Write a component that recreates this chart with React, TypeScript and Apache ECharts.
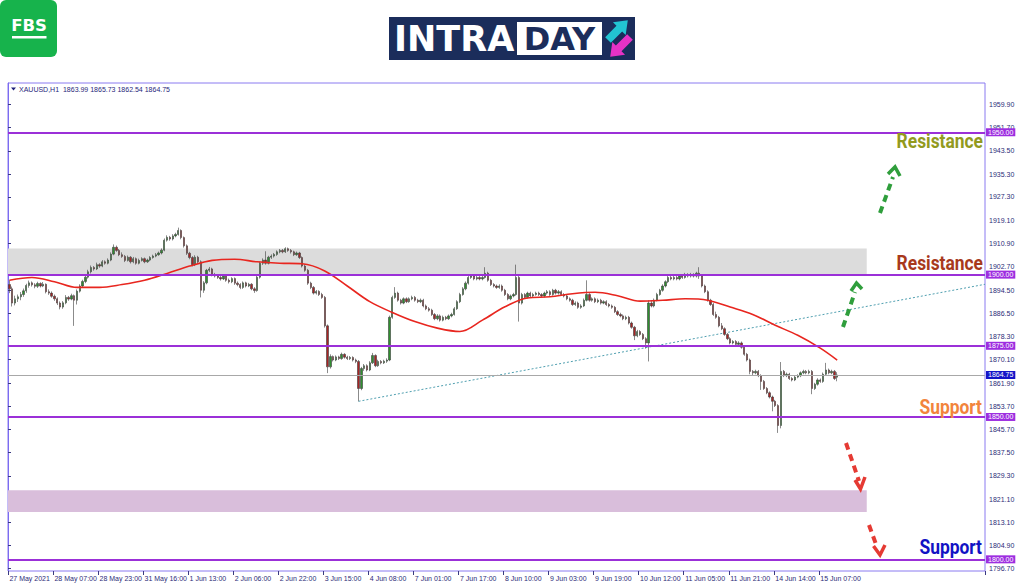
import React, { useEffect, useRef } from 'react';
import * as echarts from 'echarts';

// ---------- data ----------
const xTickLabels = ['27 May 2021', '28 May 07:00', '28 May 23:00', '31 May 16:00', '1 Jun 13:00', '2 Jun 06:00', '2 Jun 22:00', '3 Jun 15:00', '4 Jun 08:00', '7 Jun 01:00', '7 Jun 17:00', '8 Jun 10:00', '9 Jun 03:00', '9 Jun 19:00', '10 Jun 12:00', '11 Jun 05:00', '11 Jun 21:00', '14 Jun 14:00', '15 Jun 07:00'];
const yTickValues = [1796.7, 1804.9, 1813.1, 1821.1, 1829.3, 1837.5, 1845.7, 1853.7, 1861.9, 1870.1, 1878.3, 1886.5, 1894.5, 1902.7, 1910.9, 1919.1, 1927.3, 1935.3, 1943.5, 1951.7, 1959.9];

// hourly candles [open, high, low, close]
const candles: number[][] = [
  [1896.5,1898.0,1893.5,1895.0],[1895.0,1895.8,1888.8,1890.0],[1890.0,1892.6,1889.2,1891.5],[1891.5,1893.0,1890.4,1892.2],
  [1892.2,1893.9,1891.0,1893.0],[1893.0,1895.1,1892.2,1894.3],[1894.3,1896.8,1893.6,1896.2],[1896.2,1897.9,1895.4,1897.1],
  [1897.1,1897.6,1895.8,1896.4],[1896.4,1897.0,1895.2,1895.9],[1895.9,1897.5,1895.3,1896.9],[1896.9,1897.3,1895.5,1896.0],
  [1896.0,1897.4,1895.6,1896.6],[1896.6,1896.9,1893.4,1894.0],[1894.0,1894.8,1892.9,1893.5],[1893.5,1894.1,1891.9,1892.4],
  [1892.4,1893.0,1890.8,1891.5],[1891.5,1892.0,1889.3,1890.0],[1890.0,1890.6,1887.8,1888.6],[1888.6,1890.7,1888.0,1890.1],
  [1890.1,1892.8,1889.6,1892.0],[1892.0,1892.5,1890.8,1891.4],[1891.4,1893.3,1891.0,1892.6],[1892.6,1893.0,1882.0,1891.0],
  [1891.0,1894.8,1889.5,1894.2],[1894.2,1896.6,1893.7,1896.0],[1896.0,1898.2,1895.5,1897.6],[1897.6,1899.7,1897.0,1899.1],
  [1899.1,1901.7,1898.6,1901.0],[1901.0,1903.2,1900.4,1902.5],[1902.5,1903.0,1901.4,1902.0],[1902.0,1904.2,1901.6,1903.5],
  [1903.5,1904.0,1902.4,1903.0],[1903.0,1905.1,1902.6,1904.5],[1904.5,1905.0,1903.5,1904.0],[1904.0,1905.7,1903.6,1905.1],
  [1905.1,1907.8,1904.7,1907.2],[1907.2,1910.6,1906.8,1909.6],[1909.6,1910.2,1908.0,1908.5],[1908.5,1909.0,1906.5,1907.0],
  [1907.0,1907.8,1905.9,1906.4],[1906.4,1906.9,1904.4,1905.0],[1905.0,1906.7,1904.6,1906.1],[1906.1,1906.5,1903.9,1904.5],
  [1904.5,1906.2,1904.0,1905.6],[1905.6,1906.0,1903.5,1904.0],[1904.0,1905.6,1903.6,1905.0],[1905.0,1906.1,1904.6,1905.6],
  [1905.6,1906.0,1904.0,1904.5],[1904.5,1905.6,1904.1,1905.1],[1905.1,1906.5,1904.7,1906.0],[1906.0,1907.0,1905.6,1906.5],
  [1906.5,1907.6,1906.1,1907.0],[1907.0,1908.1,1906.6,1907.6],[1907.6,1909.2,1907.1,1908.6],[1908.6,1912.7,1908.2,1912.1],
  [1912.1,1913.8,1911.6,1913.1],[1913.1,1913.6,1911.9,1912.5],[1912.5,1914.2,1912.0,1913.6],[1913.6,1914.7,1913.1,1914.1],
  [1914.1,1916.5,1913.7,1915.5],[1915.5,1915.9,1912.4,1913.0],[1913.0,1913.4,1909.5,1910.1],[1910.1,1910.6,1906.9,1907.5],
  [1907.5,1908.0,1905.4,1906.0],[1906.0,1906.5,1902.9,1903.5],[1903.5,1906.8,1903.0,1906.1],[1906.1,1906.6,1904.0,1904.5],
  [1904.5,1905.0,1892.0,1894.5],[1894.5,1897.7,1893.6,1897.1],[1897.1,1902.0,1896.6,1901.5],[1901.5,1902.7,1900.9,1902.0],
  [1902.0,1902.4,1899.4,1900.0],[1900.0,1900.6,1899.0,1899.5],[1899.5,1900.1,1898.5,1899.0],[1899.0,1899.5,1897.9,1898.5],
  [1898.5,1900.1,1898.1,1899.6],[1899.6,1900.0,1897.5,1898.0],[1898.0,1898.6,1896.9,1897.5],[1897.5,1899.1,1897.0,1898.6],
  [1898.6,1899.0,1896.4,1897.0],[1897.0,1897.6,1895.9,1896.5],[1896.5,1897.0,1894.9,1895.5],[1895.5,1897.6,1895.0,1897.1],
  [1897.1,1897.5,1895.5,1896.0],[1896.0,1897.1,1895.6,1896.6],[1896.6,1897.0,1894.5,1895.0],[1895.0,1895.6,1893.6,1894.4],
  [1894.4,1899.6,1894.0,1899.1],[1899.1,1904.6,1898.6,1904.0],[1904.0,1905.7,1903.4,1905.1],[1905.1,1908.2,1903.5,1904.0],
  [1904.0,1906.6,1903.6,1906.1],[1906.1,1907.1,1905.5,1906.5],[1906.5,1907.6,1906.0,1907.1],[1907.1,1908.5,1906.6,1908.0],
  [1908.0,1909.0,1907.5,1908.5],[1908.5,1909.0,1907.5,1908.0],[1908.0,1909.6,1907.6,1909.1],[1909.1,1909.5,1908.0,1908.5],
  [1908.5,1909.0,1907.4,1908.0],[1908.0,1908.4,1906.5,1907.0],[1907.0,1908.1,1906.6,1907.6],[1907.6,1908.0,1905.5,1906.0],
  [1906.0,1906.4,1902.5,1903.0],[1903.0,1903.6,1901.0,1901.5],[1901.5,1902.0,1896.4,1897.0],[1897.0,1897.5,1894.9,1895.5],
  [1895.5,1896.0,1893.0,1893.5],[1893.5,1894.6,1893.0,1894.1],[1894.1,1894.5,1892.5,1893.0],[1893.0,1893.6,1891.5,1892.0],
  [1892.0,1892.5,1881.4,1882.0],[1882.0,1882.5,1865.4,1867.6],[1867.6,1872.0,1867.0,1871.2],[1871.2,1871.6,1869.5,1870.0],
  [1870.0,1871.6,1869.6,1871.1],[1871.1,1871.5,1870.0,1870.5],[1870.5,1872.6,1870.1,1872.0],[1872.0,1872.4,1870.5,1871.0],
  [1871.0,1871.5,1870.0,1870.5],[1870.5,1871.4,1870.0,1870.9],[1870.9,1871.3,1869.5,1870.0],[1870.0,1870.5,1868.9,1869.5],
  [1869.5,1870.0,1855.5,1860.0],[1860.0,1867.6,1859.4,1867.0],[1867.0,1868.6,1866.2,1868.0],[1868.0,1868.5,1866.0,1866.5],
  [1866.5,1869.6,1866.1,1869.0],[1869.0,1872.5,1868.6,1871.6],[1871.6,1872.0,1867.5,1868.0],[1868.0,1870.1,1867.6,1869.5],
  [1869.5,1870.0,1868.5,1869.0],[1869.0,1870.1,1868.6,1869.6],[1869.6,1870.6,1869.0,1870.0],[1870.0,1885.6,1869.6,1885.0],
  [1885.0,1892.6,1884.5,1892.0],[1892.0,1895.6,1891.5,1893.5],[1893.5,1894.0,1890.5,1891.0],[1891.0,1891.5,1889.5,1890.0],
  [1890.0,1892.0,1889.6,1891.5],[1891.5,1892.0,1890.0,1890.5],[1890.5,1892.0,1890.1,1891.5],[1891.5,1892.6,1891.0,1892.0],
  [1892.0,1892.5,1890.5,1891.0],[1891.0,1891.5,1890.0,1890.5],[1890.5,1891.6,1890.0,1891.0],[1891.0,1891.5,1888.5,1889.0],
  [1889.0,1889.5,1887.5,1888.0],[1888.0,1888.6,1887.0,1887.5],[1887.5,1888.0,1885.5,1886.0],[1886.0,1886.5,1884.0,1884.5],
  [1884.5,1886.1,1884.0,1885.5],[1885.5,1886.0,1883.5,1884.0],[1884.0,1885.6,1883.6,1885.0],[1885.0,1885.5,1884.0,1884.5],
  [1884.5,1886.0,1884.1,1885.5],[1885.5,1886.6,1885.0,1886.0],[1886.0,1888.6,1885.6,1888.0],[1888.0,1891.0,1887.6,1890.5],
  [1890.5,1893.6,1890.0,1893.0],[1893.0,1895.6,1892.6,1895.0],[1895.0,1897.6,1894.5,1897.0],[1897.0,1899.6,1896.5,1899.0],
  [1899.0,1900.2,1898.5,1899.5],[1899.5,1900.0,1898.0,1898.5],[1898.5,1899.6,1898.0,1899.0],[1899.0,1899.5,1898.0,1898.5],
  [1898.5,1899.6,1898.0,1899.0],[1899.0,1902.6,1898.6,1900.5],[1900.5,1901.0,1897.5,1898.0],[1898.0,1898.5,1896.0,1896.5],
  [1896.5,1897.0,1895.5,1896.0],[1896.0,1896.5,1895.0,1895.5],[1895.5,1896.6,1895.0,1896.0],[1896.0,1896.5,1894.0,1894.5],
  [1894.5,1895.0,1892.5,1893.0],[1893.0,1893.5,1891.0,1891.5],[1891.5,1893.0,1891.0,1892.5],[1892.5,1893.6,1892.0,1893.0],
  [1893.0,1903.5,1892.6,1899.0],[1899.0,1900.0,1883.5,1890.0],[1890.0,1893.6,1889.5,1893.0],[1893.0,1893.5,1891.5,1892.0],
  [1892.0,1894.0,1891.6,1893.5],[1893.5,1894.0,1892.0,1892.5],[1892.5,1893.6,1892.0,1893.0],[1893.0,1894.0,1892.6,1893.5],
  [1893.5,1894.0,1892.5,1893.0],[1893.0,1893.5,1892.0,1892.5],[1892.5,1894.0,1892.0,1893.5],[1893.5,1894.6,1893.0,1894.0],
  [1894.0,1894.5,1892.5,1893.0],[1893.0,1895.0,1892.6,1894.5],[1894.5,1895.0,1893.0,1893.5],[1893.5,1894.6,1893.0,1894.0],
  [1894.0,1894.5,1892.5,1893.0],[1893.0,1893.5,1892.0,1892.5],[1892.5,1893.0,1891.0,1891.5],[1891.5,1892.0,1890.5,1891.0],
  [1891.0,1891.5,1889.0,1889.5],[1889.5,1890.6,1889.0,1890.0],[1890.0,1890.5,1888.0,1888.5],[1888.5,1889.6,1888.0,1889.0],
  [1889.0,1891.6,1888.6,1891.0],[1891.0,1898.0,1890.6,1893.0],[1893.0,1893.5,1890.5,1891.0],[1891.0,1892.0,1890.5,1891.5],
  [1891.5,1892.0,1890.0,1890.5],[1890.5,1891.6,1890.0,1891.0],[1891.0,1891.5,1889.5,1890.0],[1890.0,1891.0,1889.6,1890.5],
  [1890.5,1891.0,1889.0,1889.5],[1889.5,1890.0,1888.5,1889.0],[1889.0,1889.5,1888.0,1888.5],[1888.5,1889.0,1886.5,1887.0],
  [1887.0,1887.5,1885.5,1886.0],[1886.0,1886.6,1885.0,1885.5],[1885.5,1886.0,1884.0,1884.5],[1884.5,1885.6,1884.0,1885.0],
  [1885.0,1885.5,1882.5,1883.0],[1883.0,1883.5,1881.0,1881.5],[1881.5,1882.0,1877.0,1878.5],[1878.5,1880.6,1878.0,1880.0],
  [1880.0,1880.5,1878.5,1879.0],[1879.0,1879.5,1877.0,1877.5],[1877.5,1878.0,1874.0,1876.0],[1876.0,1891.0,1869.5,1890.0],
  [1890.0,1891.0,1888.5,1889.0],[1889.0,1891.6,1888.5,1891.0],[1891.0,1893.6,1890.6,1893.0],[1893.0,1895.0,1892.6,1894.5],
  [1894.5,1896.6,1894.0,1896.0],[1896.0,1898.0,1895.5,1897.5],[1897.5,1899.6,1897.0,1899.0],[1899.0,1899.5,1898.0,1898.5],
  [1898.5,1899.6,1898.0,1899.0],[1899.0,1899.5,1898.0,1898.5],[1898.5,1900.0,1898.0,1899.5],[1899.5,1900.0,1898.5,1899.0],
  [1899.0,1900.6,1898.6,1900.0],[1900.0,1900.5,1899.0,1899.5],[1899.5,1900.6,1899.0,1900.0],[1900.0,1900.5,1899.0,1899.5],
  [1899.5,1901.0,1899.0,1900.5],[1900.5,1902.6,1898.5,1899.5],[1899.5,1900.0,1895.5,1896.0],[1896.0,1896.5,1893.5,1894.0],
  [1894.0,1894.5,1890.5,1891.0],[1891.0,1891.5,1889.0,1889.5],[1889.5,1890.0,1885.5,1886.0],[1886.0,1887.0,1884.5,1885.0],
  [1885.0,1885.5,1881.5,1882.0],[1882.0,1883.0,1880.5,1881.0],[1881.0,1881.5,1878.5,1879.0],[1879.0,1879.5,1877.0,1877.5],
  [1877.5,1878.0,1875.5,1876.0],[1876.0,1877.0,1875.5,1876.5],[1876.5,1877.0,1875.0,1875.5],[1875.5,1876.6,1875.0,1876.0],
  [1876.0,1876.5,1874.0,1874.5],[1874.5,1875.0,1871.5,1872.0],[1872.0,1872.5,1869.5,1870.0],[1870.0,1870.5,1865.0,1866.0],
  [1866.0,1866.5,1864.5,1865.5],[1865.5,1866.6,1865.0,1866.0],[1866.0,1866.5,1864.0,1864.5],[1864.5,1865.0,1859.5,1862.5],
  [1862.5,1863.0,1859.5,1860.0],[1860.0,1860.5,1858.0,1858.5],[1858.5,1859.0,1856.5,1857.0],[1857.0,1857.5,1852.0,1855.5],
  [1855.5,1856.0,1853.5,1854.0],[1854.0,1854.5,1844.4,1847.0],[1847.0,1869.3,1846.0,1866.0],[1866.0,1866.5,1864.0,1864.5],
  [1864.5,1865.6,1864.0,1865.0],[1865.0,1865.5,1863.0,1863.5],[1863.5,1864.0,1862.5,1863.0],[1863.0,1864.6,1862.6,1864.0],
  [1864.0,1865.0,1863.6,1864.5],[1864.5,1866.0,1864.0,1865.5],[1865.5,1866.6,1865.0,1866.0],[1866.0,1866.5,1865.0,1865.5],
  [1865.5,1866.6,1865.0,1866.0],[1866.0,1866.5,1858.0,1860.0],[1860.0,1862.0,1859.5,1861.5],[1861.5,1863.6,1861.0,1863.0],
  [1863.0,1863.5,1862.0,1862.5],[1862.5,1865.6,1862.0,1865.0],[1865.0,1869.0,1864.6,1866.5],[1866.5,1867.0,1865.0,1865.5],
  [1865.5,1866.6,1865.0,1866.0],[1866.0,1866.5,1863.0,1863.5],[1863.99,1865.73,1862.54,1864.75]
];

// moving average (red line), read at these bar positions
const maBars = [0, 8, 16, 24, 32, 40, 48, 56, 64, 72, 80, 88, 96, 104, 112, 120, 128, 136, 144, 152, 160, 168, 176, 184, 192, 200, 208, 216, 224, 232, 240, 248, 256, 264, 272, 280, 288, 294];
const maValues = [1898.0, 1899.0, 1897.5, 1895.5, 1895.5, 1896.5, 1898.0, 1900.4, 1903.0, 1905.0, 1905.4, 1904.5, 1904.0, 1903.8, 1901.3, 1896.0, 1890.5, 1886.7, 1883.5, 1881.2, 1880.0, 1884.0, 1888.7, 1891.8, 1892.2, 1893.3, 1893.8, 1892.6, 1890.7, 1891.0, 1891.5, 1891.0, 1888.6, 1886.0, 1882.2, 1878.7, 1874.2, 1870.0];

const trendBars = [124.5, 347];
const trendValues = [1855.5, 1896.6];

const levelValues = [1950, 1900, 1875, 1850, 1800];
const currentPrice = 1864.75;
const zoneGray = [1900, 1909.2];
const zonePink = [1816.6, 1824.3];
const zoneEndBar = 305;
const totalSlots = 347;
const headerText = 'XAUUSD,H1  1863.99 1865.73 1862.54 1864.75';

export default function App() {
  const ref = useRef<HTMLDivElement>(null);
  useEffect(() => {
    if (!ref.current) return;
    const chart = echarts.init(ref.current, undefined, { renderer: 'svg' });
    const categories = Array.from({ length: totalSlots }, (_, i) => String(i));
    const candleData = candles.map(([o, h, l, c]) => [o, c, l, h]);
    const maData = maBars.map((b, k) => [b + 0.5, maValues[k]]);
    const trendData = trendBars.map((b, k) => [b, trendValues[k]]);
    const lbl = 'Liberation Sans';
    const axisTextColor = '#2c2c78';
    const purple = '#9b30d8';

    const levelLines: any[] = levelValues.map((v) => ({
      yAxis: v,
      lineStyle: { color: purple, width: 2, type: 'solid' },
      label: {
        show: true, position: 'end', distance: 1, formatter: v.toFixed(2),
        backgroundColor: '#9d2ee0', color: '#ffffff', fontSize: 7, fontFamily: lbl,
        padding: [1, 2, 0, 2],
      },
    }));
    levelLines.push({
      yAxis: currentPrice,
      lineStyle: { color: '#a8a8a8', width: 1, type: 'solid' },
      label: {
        show: true, position: 'end', distance: 1, formatter: currentPrice.toFixed(2),
        backgroundColor: '#1414c8', color: '#ffffff', fontSize: 7, fontFamily: lbl,
        padding: [1, 2, 0, 2],
      },
    });

    const arrowPts = [[0, -4], [16, -4], [16, -9], [28, 0], [16, 9], [16, 4], [0, 4]];
    const green = '#2f9e3c';
    const red = '#e53a33';

    const graphic: any[] = [
      // FBS logo
      { type: 'rect', z: 100, shape: { x: 0, y: 0, width: 57, height: 57, r: 6 }, style: { fill: '#17b34c' } },
      { type: 'text', z: 101, x: 29, y: 25.5, style: { text: 'FBS', align: 'center', verticalAlign: 'middle', fill: '#ffffff', fontSize: 16.5, fontWeight: 'bold', fontFamily: 'DejaVu Sans' } },
      { type: 'rect', z: 101, shape: { x: 12, y: 36, width: 34.5, height: 2.5 }, style: { fill: '#ffffff' } },
      // INTRADAY logo
      { type: 'rect', z: 100, shape: { x: 389, y: 17, width: 246, height: 43 }, style: { fill: '#1b2d5b' } },
      { type: 'text', z: 101, x: 394, y: 39, style: { text: 'INTRA', align: 'left', verticalAlign: 'middle', fill: '#ffffff', fontSize: 35, fontWeight: 'bold', fontFamily: 'DejaVu Sans' } },
      { type: 'rect', z: 101, shape: { x: 517, y: 22, width: 85, height: 33 }, style: { fill: '#ffffff' } },
      { type: 'text', z: 102, x: 559.5, y: 39, style: { text: 'DAY', align: 'center', verticalAlign: 'middle', fill: '#1b2d5b', fontSize: 32, fontWeight: 'bold', fontFamily: 'DejaVu Sans' } },
      { type: 'polygon', z: 102, x: 608, y: 40, rotation: Math.PI / 4, shape: { points: arrowPts }, style: { fill: '#22c4d2' } },
      { type: 'polygon', z: 102, x: 630, y: 37, rotation: (5 * Math.PI) / 4, shape: { points: arrowPts }, style: { fill: '#e632c6' } },
      // header
      { type: 'polygon', z: 100, shape: { points: [[11, 87.5], [16, 87.5], [13.5, 90.5]] }, style: { fill: '#1f1f7a' } },
      { type: 'text', z: 100, x: 19, y: 89, style: { text: headerText, align: 'left', verticalAlign: 'middle', fill: '#1f1f7a', fontSize: 7, fontFamily: lbl } },
      // labels
      { type: 'text', z: 100, x: 983, y: 142, scaleX: 0.87, style: { text: 'Resistance', align: 'right', verticalAlign: 'middle', fill: '#929a1e', fontSize: 20, fontWeight: 'bold', fontFamily: 'Roboto' } },
      { type: 'text', z: 100, x: 983, y: 264, scaleX: 0.87, style: { text: 'Resistance', align: 'right', verticalAlign: 'middle', fill: '#a8391c', fontSize: 20, fontWeight: 'bold', fontFamily: 'Roboto' } },
      { type: 'text', z: 100, x: 982, y: 408, scaleX: 0.87, style: { text: 'Support', align: 'right', verticalAlign: 'middle', fill: '#f2843c', fontSize: 20, fontWeight: 'bold', fontFamily: 'Roboto' } },
      { type: 'text', z: 100, x: 982, y: 548, scaleX: 0.87, style: { text: 'Support', align: 'right', verticalAlign: 'middle', fill: '#1212c4', fontSize: 20, fontWeight: 'bold', fontFamily: 'Roboto' } },
      // green dashed arrows
      { type: 'line', z: 100, shape: { x1: 843, y1: 327, x2: 855, y2: 292 }, style: { stroke: green, lineWidth: 4, lineDash: [7, 5] } },
      { type: 'polyline', z: 100, shape: { points: [[851, 291], [856.5, 283], [862, 289]] }, style: { stroke: green, lineWidth: 3.5, fill: null } },
      { type: 'line', z: 100, shape: { x1: 880, y1: 213, x2: 893, y2: 177 }, style: { stroke: green, lineWidth: 4, lineDash: [7, 5] } },
      { type: 'polyline', z: 100, shape: { points: [[888, 174], [895, 167], [900, 176]] }, style: { stroke: green, lineWidth: 3.5, fill: null } },
      // red dashed arrows
      { type: 'line', z: 100, shape: { x1: 846, y1: 443, x2: 859, y2: 481 }, style: { stroke: red, lineWidth: 4, lineDash: [7, 5] } },
      { type: 'polyline', z: 100, shape: { points: [[855, 480], [860.5, 489], [865, 477]] }, style: { stroke: red, lineWidth: 3.5, fill: null } },
      { type: 'line', z: 100, shape: { x1: 869, y1: 525, x2: 877, y2: 547 }, style: { stroke: red, lineWidth: 4, lineDash: [7, 5] } },
      { type: 'polyline', z: 100, shape: { points: [[873.5, 546], [880, 555], [885, 545]] }, style: { stroke: red, lineWidth: 3.5, fill: null } },
    ];

    chart.setOption({
      animation: false,
      backgroundColor: '#ffffff',
      grid: { left: 8, right: 39, top: 83, bottom: 16, show: true, borderColor: '#8a7af0', borderWidth: 1, backgroundColor: 'transparent' },
      xAxis: [
        {
          type: 'category', data: categories, boundaryGap: true,
          axisLine: { show: false },
          axisTick: { show: true, length: 4, interval: (i: number) => i % 16 === 0 && i <= 288, lineStyle: { color: '#3a3a80' } },
          axisLabel: {
            show: true, interval: (i: number) => i % 16 === 0 && i <= 288,
            formatter: (_v: string, i: number) => xTickLabels[i / 16] ?? '',
            align: 'left', margin: 4, fontSize: 7, color: axisTextColor, fontFamily: lbl,
          },
          splitLine: { show: false },
        },
        { type: 'value', min: 0, max: totalSlots, show: false },
      ],
      yAxis: {
        type: 'value', position: 'right', min: 1795.9, max: 1967.3, scale: true,
        axisLine: { show: true, lineStyle: { color: '#7c6cf0', width: 1 } },
        axisTick: { show: true, length: 3, customValues: yTickValues, lineStyle: { color: '#3a3a80' } },
        axisLabel: { show: true, customValues: yTickValues, formatter: (v: number) => v.toFixed(2), fontSize: 7, color: axisTextColor, fontFamily: lbl, margin: 4 },
        splitLine: { show: false },
      },
      graphic,
      series: [
        {
          type: 'line', name: 'trend', xAxisIndex: 1, data: trendData, symbol: 'none', z: 3,
          lineStyle: { color: '#4f9fb0', width: 1, type: [2, 2] },
          markArea: {
            silent: true,
            data: [
              [{ coord: [0, zoneGray[1]], itemStyle: { color: '#dcdcdc' } }, { coord: [zoneEndBar, zoneGray[0]] }],
              [{ coord: [0, zonePink[1]], itemStyle: { color: '#d9bedb' } }, { coord: [zoneEndBar, zonePink[0]] }],
            ],
          },
        },
        {
          type: 'candlestick', name: 'XAUUSD', xAxisIndex: 0, data: candleData, barWidth: 1.8, z: 4,
          itemStyle: { color: '#2f8f2f', color0: '#a82424', borderColor: '#3d3d3d', borderColor0: '#3d3d3d', borderWidth: 0.6 },
        },
        {
          type: 'line', name: 'MA', xAxisIndex: 1, data: maData, symbol: 'none', smooth: 0.35, z: 6,
          lineStyle: { color: '#e8261f', width: 1.6 },
          markLine: { silent: true, symbol: 'none', z: 7, data: levelLines },
        },
      ],
    } as any);
    return () => chart.dispose();
  }, []);
  return <div ref={ref} style={{ position: 'absolute', left: 0, top: 0, width: 1024, height: 587, background: '#fff' }} />;
}
